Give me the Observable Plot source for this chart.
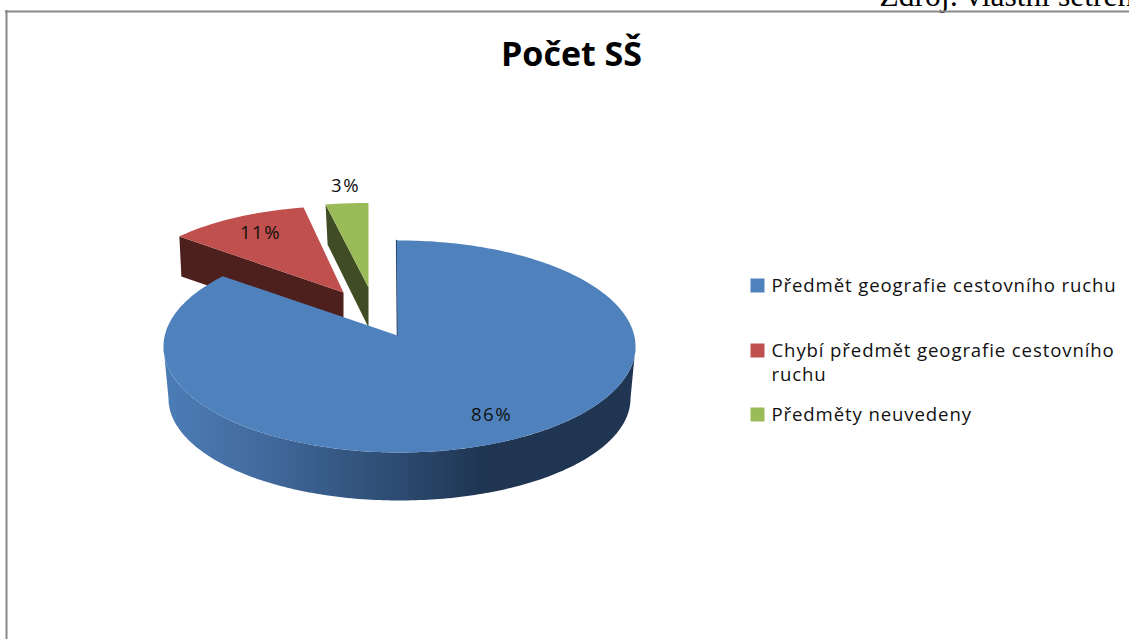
<!DOCTYPE html>
<html lang="cs">
<head>
<meta charset="utf-8">
<title>Počet SŠ</title>
<style>
  html, body { margin: 0; padding: 0; background: #fff; overflow: hidden; }
  svg { display: block; }
</style>
<script src="https://cdn.jsdelivr.net/npm/d3@7"></script>
<script src="https://cdn.jsdelivr.net/npm/@observablehq/plot@0.6"></script>
</head>
<body>
<div id="chart"></div>
<script>
const title = "Počet SŠ";
const source = "Zdroj: vlastní šetření";
const categories = [
  "Předmět geografie cestovního ruchu",
  "Chybí předmět geografie cestovního\nruchu",
  "Předměty neuvedeny"
];
const values = [86, 11, 3];
const colors = ["#4F81BD", "#C0504D", "#9BBB59"];
const sideColors = ["#1F3552", "#4D1F1D", "#404D24"];

const W = 1129, H = 639;
const FONT = "'Open Sans', sans-serif";

// Projection of each exploded slice (ellipse, apex, side depth)
const views = [
  {cx: 399, cy: 346, rx: 236, ry: 106, ax: 397, ay: 335, offset: -0.7, stretch: 1.0084},
  {cx: 343, cy: 289.5, rx: 213, ry: 84, ax: 343, ay: 292, offset: 0, stretch: 1},
  {cx: 368, cy: 287, rx: 229, ry: 84.5, ax: 368, ay: 287, offset: 0, stretch: 1}
];
const sideDepth = 40;
const wallBottom = {cx: 399, cy: 398, rx: 231, ry: 102};
const labelSpots = [[491, 415], [260, 233], [345, 186]];
const legendRows = [[285], [350], [414]];

const deg = r => r * 180 / Math.PI;
const onEllipse = (e, a) => {
  const t = a * Math.PI / 180;
  return [e.cx + e.rx * Math.sin(t), e.cy - e.ry * Math.cos(t)];
};
const sweep = (a0, a1) => {
  const n = Math.max(2, Math.ceil(Math.abs(a1 - a0)));
  return d3.range(n + 1).map(i => a0 + (a1 - a0) * i / n);
};

const arcs = d3.pie().sort(null).value(d => d)(values).map((p, i) => {
  const v = views[i];
  return {
    a0: v.offset + deg(p.startAngle) * v.stretch,
    a1: v.offset + deg(p.endAngle) * v.stretch,
    v
  };
});

const topFace = ({a0, a1, v}) => [...sweep(a0, a1).map(a => onEllipse(v, a)), [v.ax, v.ay]];
const cutFace = ({a0, v}) => {
  const p = onEllipse(v, a0);
  return [p, [v.ax, v.ay], [v.ax, v.ay + sideDepth], [p[0] + 2, p[1] + sideDepth]];
};
const wall = [
  ...sweep(90, 270).map(a => onEllipse(views[0], a)),
  ...sweep(270, 90).map(a => onEllipse(wallBottom, a))
];
const poly = (pts, fill) => Plot.line(pts, {x: d => d[0], y: d => d[1], fill, stroke: "none"});

const gradient = () => {
  const defs = d3.create("svg:defs");
  const g = defs.append("linearGradient").attr("id", "wallShade");
  [[0, "#4C7DB6"], [0.18, "#446DA2"], [0.5, "#2C4B70"], [0.68, "#1F3552"], [1, "#1F3552"]]
    .forEach(([o, c]) => g.append("stop").attr("offset", o).attr("stop-color", c));
  return defs.node();
};

const spaced = px => (index, scales, values, dimensions, context, next) => {
  const g = next(index, scales, values, dimensions, context);
  g.style.letterSpacing = px;
  return g;
};

const chart = Plot.plot({
  width: W, height: H,
  margin: 0,
  x: {domain: [0, W], range: [0, W], axis: null},
  y: {domain: [0, H], range: [0, H], axis: null},
  color: {domain: categories, range: colors},
  style: {background: "#fff"},
  marks: [
    gradient,
    // source line of the surrounding page, cut by the picture edge
    Plot.text([source], {x: () => 879, y: () => 5, text: d => d, textAnchor: "start", lineAnchor: "bottom",
      fontFamily: "'Liberation Serif', serif", fontSize: 31.5, fill: "#000"}),
    // frame
    Plot.ruleY([11], {x1: 5, x2: W, stroke: "#8A8A8A", strokeWidth: 2}),
    Plot.ruleX([6], {y1: 10, y2: H, stroke: "#8A8A8A", strokeWidth: 2}),
    // exploded slices
    poly(cutFace(arcs[1]), sideColors[1]),
    poly(topFace(arcs[1]), colors[1]),
    poly(cutFace(arcs[2]), sideColors[2]),
    poly(topFace(arcs[2]), colors[2]),
    // main slice
    Plot.line([onEllipse(views[0], arcs[0].a0), [views[0].ax, views[0].ay]],
      {x: d => d[0], y: d => d[1], stroke: sideColors[0], strokeWidth: 1.5}),
    poly(wall, "url(#wallShade)"),
    poly(topFace(arcs[0]), colors[0]),
    // value labels
    Plot.text(values, {x: (d, i) => labelSpots[i][0], y: (d, i) => labelSpots[i][1], text: d => d + "%",
      fontFamily: FONT, fontSize: 18.6, fill: "#111", render: spaced("1.5px")}),
    // title
    Plot.text([title], {x: () => 571, y: () => 55, text: d => d, fontFamily: FONT, fontWeight: 700,
      fontSize: 34, fill: "#000"}),
    // legend
    Plot.dot(categories, {x: () => 757, y: (d, i) => legendRows[i][0], fill: d => d, stroke: "none",
      symbol: "square", r: 7.9}),
    Plot.text(categories, {x: () => 771, y: (d, i) => legendRows[i][0], text: d => d, textAnchor: "start",
      lineAnchor: "top", dy: -11.5, fontFamily: FONT, fontSize: 18.6, lineHeight: 1.33, fill: "#111",
      render: spaced("0.88px")})
  ]
});
document.getElementById("chart").appendChild(chart);
</script>
</body>
</html>
